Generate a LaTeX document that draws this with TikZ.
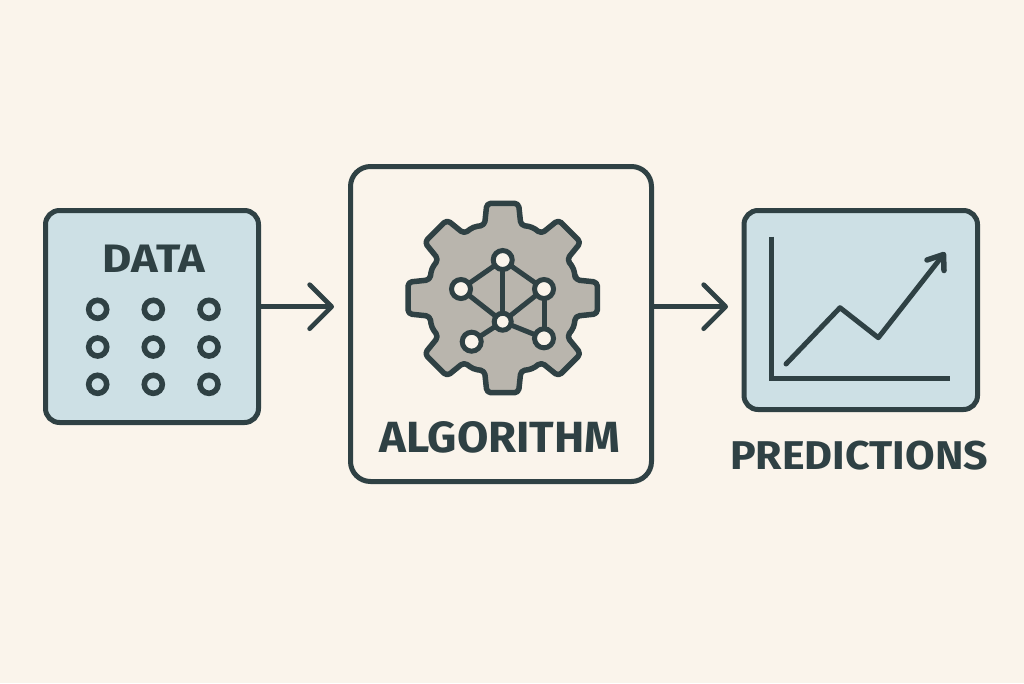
\documentclass[tikz,border=0pt]{standalone}
\usepackage{fontspec}
\setmainfont{Fira Sans}
\usetikzlibrary{arrows.meta}
\definecolor{bgc}{HTML}{FAF4EB}
\definecolor{ink}{HTML}{2F4144}
\definecolor{pale}{HTML}{CDE0E5}
\definecolor{gearc}{HTML}{B9B5AD}
\tikzset{
  x=1pt,y=-1pt,
  panel/.style={draw=ink,line width=5pt,fill=pale,rounded corners=14pt,inner sep=0pt,outer sep=0pt},
  bigpanel/.style={draw=ink,line width=5pt,fill=bgc,rounded corners=20pt,inner sep=0pt,outer sep=0pt},
  dot/.style={circle,draw=ink,line width=5.6pt,minimum size=18pt,inner sep=0pt,outer sep=0pt},
  netnode/.style={circle,draw=ink,line width=5pt,fill=bgc,minimum size=19pt,inner sep=0pt,outer sep=0pt},
  link/.style={draw=ink,line width=5pt},
  flow/.style={draw=ink,line width=4.7pt,-{Straight Barb[length=22pt,width=44pt,line width=4.7pt,round]}},
  label/.style={text=ink,font=\bfseries\fontsize{40}{40}\selectfont,inner sep=0pt,anchor=base},
}
\begin{document}
\begin{tikzpicture}
\fill[bgc] (0,0) rectangle (1024,683);
\useasboundingbox (0,0) rectangle (1024,683);
% boxes
\node[panel,minimum width=213pt,minimum height=212pt] (data) at (152,316.5) {};
\node[bigpanel,minimum width=301pt,minimum height=315pt] (algo) at (501,324) {};
\node[panel,minimum width=233.5pt,minimum height=199pt] (pred) at (860.75,310) {};
% labels
\node[label] (datat) at (153.8,272.5) {\resizebox{102pt}{27.5pt}{DATA}};
\node[label] (algot) at (500,452) {\resizebox{241pt}{31pt}{ALGORITHM}};
\node[label] (predt) at (859,469) {\resizebox{258pt}{28.5pt}{PREDICTIONS}};
% data dots
\foreach \c/\x in {a/97.7,b/153.3,c/209}{
  \foreach \r/\y in {1/309.3,2/347,3/384.3}{
    \node[dot] (d\c\r) at (\x,\y) {};
  }
}
% arrows
\coordinate (tipa) at (334,306.7);
\coordinate (tipb) at (728,306.7);
\draw[flow] (data.east |- tipa) -- (tipa);
\draw[flow] (algo.east |- tipb) -- (tipb);
% gear
\draw[draw=ink,line width=5.5pt,fill=gearc,rounded corners=4pt,line join=round,shift={(502.7,298)}]
  (-14:75)
  \foreach \a in {0,45,...,315}{
    -- (\a-14:75) -- (\a-9.5:96) -- (\a+9.5:96) -- (\a+14:75) -- (\a+22.5:77)
  } -- cycle;
% network
\node[netnode] (n1) at (502.7,260) {};
\node[netnode] (n2) at (461,289) {};
\node[netnode] (n3) at (544,289) {};
\node[netnode,minimum size=17pt] (n4) at (502.7,321.7) {};
\node[netnode] (n5) at (471.7,341.7) {};
\node[netnode] (n6) at (544,338.3) {};
\foreach \p/\q in {n1/n2,n1/n3,n1/n4,n2/n4,n3/n4,n3/n6,n4/n6,n4/n5}{
  \draw[link] (\p) -- (\q);
}
% chart
\coordinate (ytop) at (771.7,236.7);
\coordinate (orig) at (771.7,378.3);
\coordinate (xend) at (950,378.3);
\draw[draw=ink,line width=5pt,line join=miter] (ytop) -- (orig) -- (xend);
\coordinate (c1) at (786,364);
\coordinate (c2) at (840,307.7);
\coordinate (c3) at (878.3,337.7);
\coordinate (c4) at (943.5,254.5);
\coordinate (h1) at (927,260);
\coordinate (h2) at (944,270.5);
\draw[draw=ink,line width=5pt,line join=round,line cap=round] (c1) -- (c2) -- (c3) -- (c4);
\draw[draw=ink,line width=5.5pt,line join=round,line cap=round] (h1) -- (c4) -- (h2);
\end{tikzpicture}
\end{document}
